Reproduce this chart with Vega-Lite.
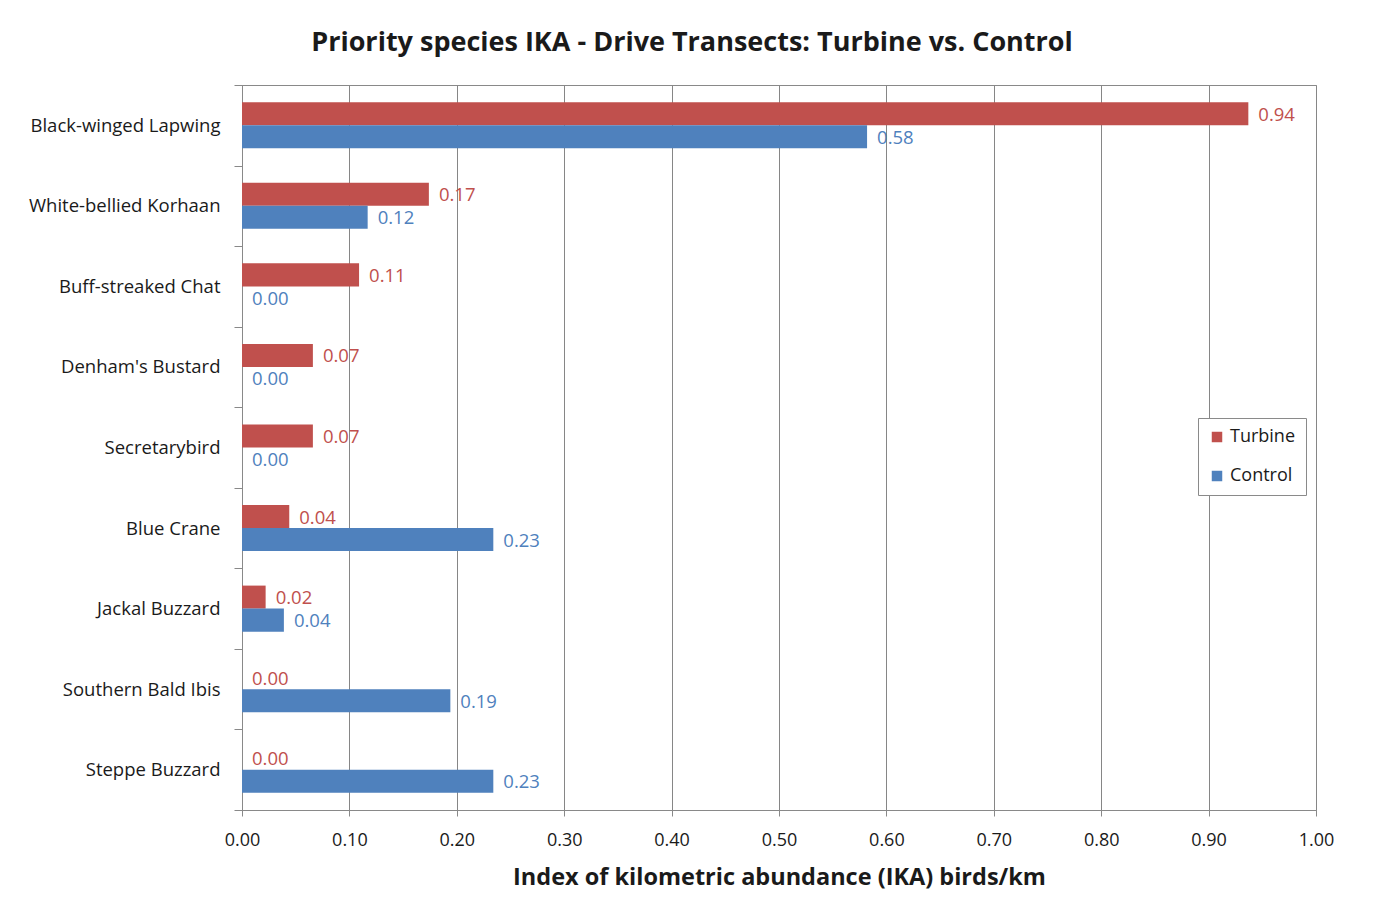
{
  "$schema": "https://vega.github.io/schema/vega-lite/v6.json",
  "width": 1074,
  "height": 725,
  "autosize": {"type": "none"},
  "padding": {"left": 242, "top": 85, "right": 76, "bottom": 104},
  "background": "white",
  "title": {
    "text": "Priority species IKA - Drive Transects: Turbine vs. Control",
    "font": "Open Sans",
    "fontSize": 27,
    "fontWeight": "bold",
    "color": "#1a1a1a",
    "anchor": "middle",
    "dx": -87,
    "offset": 19
  },
  "data": {
    "values": [
      {"species": "Black-winged Lapwing", "series": "Turbine", "value": 0.937},
      {"species": "Black-winged Lapwing", "series": "Control", "value": 0.582},
      {"species": "White-bellied Korhaan", "series": "Turbine", "value": 0.174},
      {"species": "White-bellied Korhaan", "series": "Control", "value": 0.117},
      {"species": "Buff-streaked Chat", "series": "Turbine", "value": 0.109},
      {"species": "Buff-streaked Chat", "series": "Control", "value": 0},
      {"species": "Denham's Bustard", "series": "Turbine", "value": 0.066},
      {"species": "Denham's Bustard", "series": "Control", "value": 0},
      {"species": "Secretarybird", "series": "Turbine", "value": 0.066},
      {"species": "Secretarybird", "series": "Control", "value": 0},
      {"species": "Blue Crane", "series": "Turbine", "value": 0.044},
      {"species": "Blue Crane", "series": "Control", "value": 0.234},
      {"species": "Jackal Buzzard", "series": "Turbine", "value": 0.022},
      {"species": "Jackal Buzzard", "series": "Control", "value": 0.039},
      {"species": "Southern Bald Ibis", "series": "Turbine", "value": 0},
      {"species": "Southern Bald Ibis", "series": "Control", "value": 0.194},
      {"species": "Steppe Buzzard", "series": "Turbine", "value": 0},
      {"species": "Steppe Buzzard", "series": "Control", "value": 0.234}
    ]
  },
  "encoding": {
    "y": {
      "field": "species",
      "type": "nominal",
      "sort": null,
      "scale": {"paddingInner": 0, "paddingOuter": 0},
      "axis": {
        "title": null,
        "tickBand": "extent",
        "tickSize": 8,
        "tickColor": "#898989",
        "domainColor": "#898989",
        "labelPadding": 14,
        "labelFont": "Open Sans",
        "labelFontSize": 18.5,
        "labelColor": "#1a1a1a",
        "labelLimit": 300
      }
    },
    "yOffset": {
      "field": "series",
      "type": "nominal",
      "scale": {"domain": ["Turbine", "Control"], "paddingOuter": 0.75, "paddingInner": 0}
    },
    "x": {
      "field": "value",
      "type": "quantitative",
      "scale": {"domain": [0, 1], "nice": false},
      "axis": {
        "title": "Index of kilometric abundance (IKA) birds/km",
        "format": ".2f",
        "values": [0, 0.1, 0.2, 0.3, 0.4, 0.5, 0.6, 0.7, 0.8, 0.9, 1.0],
        "labelFlush": false,
        "labelOverlap": false,
        "grid": true,
        "gridColor": "#868686",
        "gridWidth": 1,
        "tickSize": 6,
        "tickColor": "#898989",
        "domainColor": "#898989",
        "labelPadding": 15,
        "labelFont": "Open Sans",
        "labelFontSize": 18,
        "labelColor": "#1a1a1a",
        "titleFont": "Open Sans",
        "titleFontSize": 23.5,
        "titleFontWeight": "bold",
        "titleColor": "#1a1a1a",
        "titlePadding": 16
      }
    }
  },
  "layer": [
    {
      "mark": {"type": "bar", "cornerRadius": 0},
      "encoding": {
        "color": {
          "field": "series",
          "type": "nominal",
          "scale": {"domain": ["Turbine", "Control"], "range": ["#C0504D", "#4F81BD"]},
          "legend": {
            "title": null,
            "orient": "none",
            "legendX": 956,
            "legendY": 333,
            "strokeColor": "#8a8a8a",
            "fillColor": "white",
            "padding": 10,
            "symbolType": "square",
            "symbolSize": 110,
            "symbolStrokeWidth": 0,
            "labelFont": "Open Sans",
            "labelFontSize": 18,
            "labelColor": "#1a1a1a",
            "rowPadding": 21
          }
        }
      }
    },
    {
      "mark": {"type": "text", "align": "left", "baseline": "middle", "dx": 10, "dy": 1, "font": "Open Sans", "fontSize": 18.5},
      "encoding": {
        "text": {"field": "value", "type": "quantitative", "format": ".2f"},
        "color": {"field": "series", "type": "nominal", "legend": null,
          "scale": {"domain": ["Turbine", "Control"], "range": ["#C0504D", "#4F81BD"]}}
      }
    }
  ],
  "config": {
    "view": {"stroke": "#898989", "strokeWidth": 1}
  }
}
